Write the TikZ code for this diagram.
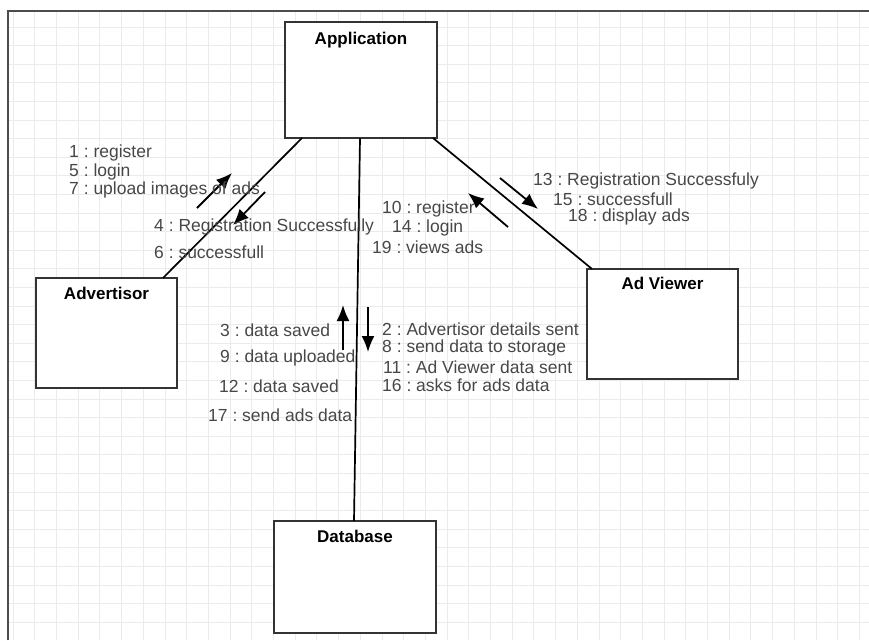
\documentclass[tikz,border=0pt]{standalone}
\usepackage{fontspec}
\setmainfont{Liberation Sans}
\usepackage{tikz}
\usetikzlibrary{arrows.meta,calc,positioning}
\frenchspacing

\begin{document}
\begin{tikzpicture}[x=1pt, y=-1pt, every node/.style={font=\fontsize{17.5}{19}\selectfont}]
\tikzstyle{gridline}=[draw=black!8, line width=0.8pt]
\tikzstyle{obj}=[draw=black!80, line width=1.8pt, fill=white, outer sep=0pt, inner sep=0pt]
\tikzstyle{objname}=[anchor=center, font=\fontsize{17}{19}\selectfont\bfseries]
\tikzstyle{link}=[line width=1.7pt]
\tikzstyle{msg}=[line width=1.8pt, -{Latex[length=16pt,width=13pt]}]
\tikzstyle{msgtxt}=[anchor=west, inner sep=0pt, text=black!72]

\useasboundingbox (0,0) rectangle (869,640);

% squared paper
\foreach \gx in {0,...,39}
  \draw [gridline] ({13+21.7*\gx},11) -- ({13+21.7*\gx},640);
\foreach \gy in {0,...,32}
  \draw [gridline] (8,{27+18.6*\gy}) -- (869,{27+18.6*\gy});
\draw [black!70, line width=1.2pt] (8,640) -- (8,11) -- (869,11);

% objects
\node [obj] (app) [minimum width=152pt, minimum height=116pt,
  label={[objname, yshift=-18pt]north:Application}] at (361,80) {};
\node [obj] (adv) [minimum width=141pt, minimum height=110pt,
  label={[objname, yshift=-15pt]north:Advertisor}] at (106.5,333) {};
\node [obj] (viewer) [minimum width=151pt, minimum height=110pt,
  label={[objname, yshift=-14pt]north:Ad Viewer}] at (662.5,324) {};
\node [obj] (db) [minimum width=162pt, minimum height=112pt,
  label={[objname, yshift=-15pt]north:Database}] at (355,577) {};

% links
\draw [link] ($(app.south west)+(17,0)$) -- ($(adv.north east)+(-14,0)$);
\draw [link] ($(app.south east)+(-4,0)$) -- ($(viewer.north west)+(5,0)$);
\draw [link] ($(app.south)+(-1,0)$) -- ($(db.north)+(-1,0)$);

% messages
\draw [msg] (197,208) -- (232,173);
\draw [msg] (265,192) -- (233,225);
\draw [msg] (500,178) -- (538,209);
\draw [msg] (508,227) -- (468,193);
\draw [msg] (343,350) -- (343,305);
\draw [msg] (368,307) -- (368,352);

\foreach \tx/\ty/\txt in {
  69/153/{1 : register}, 69/172/{5 : login}, 69/190/{7 : upload images of ads},
  154/227/{4 : Registration Successfully}, 154/252/{6 : successfull},
  382/209/{10 : register}, 392/228/{14 : login}, 372/247/{19 : views ads},
  533/181/{13 : Registration Successfuly}, 553/199/{15 : successfull}, 568/217/{18 : display ads},
  220/330/{3 : data saved}, 220/358/{9 : data uploaded}, 219/386/{12 : data saved}, 208/415/{17 : send ads data},
  382/329/{2 : Advertisor details sent}, 382/348/{8 : send data to storage},
  383/367/{11 : Ad Viewer data sent}, 382/385/{16 : asks for ads data}}
  \node [msgtxt] at (\tx,\ty) {\txt};

\end{tikzpicture}
\end{document}
